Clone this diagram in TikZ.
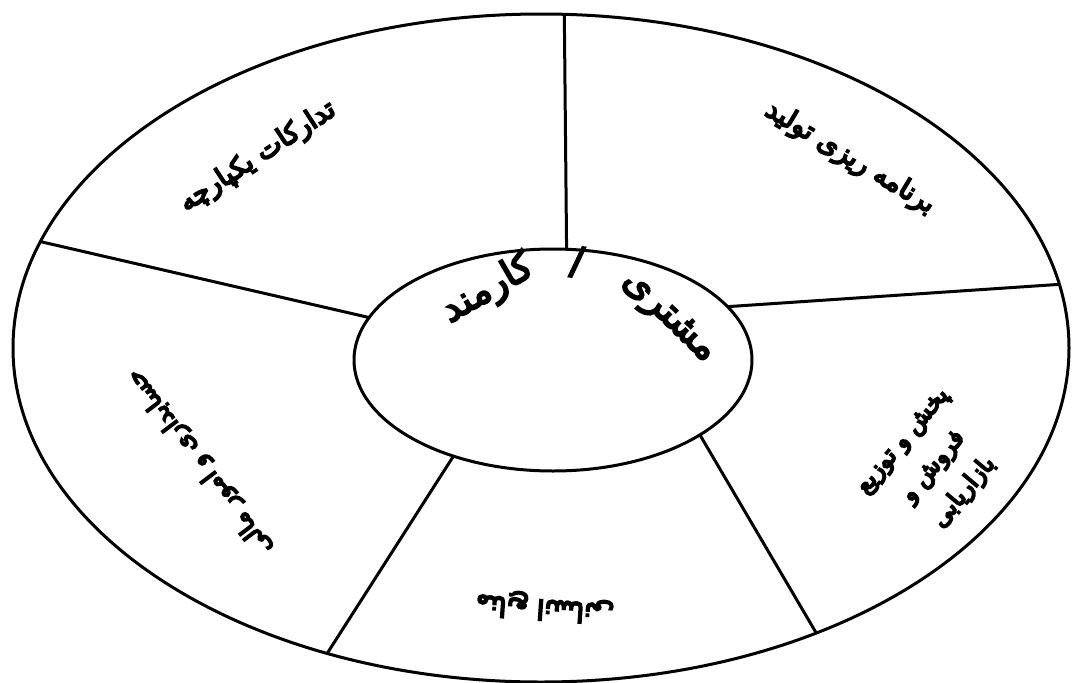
\documentclass[tikz,border=0pt]{standalone}
\usepackage{fontspec}
\newfontfamily\persianfont[Script=Arabic]{DejaVu Sans}
\TeXXeTstate=1
\usetikzlibrary{shapes.geometric}
% heavy strokes for the Persian labels (fill + stroke render mode)
\newcommand{\fa}[1]{\special{pdf:literal direct 2 Tr 1.8 w}\beginR #1\endR\special{pdf:literal direct 0 Tr}}
\tikzset{
  ring/.style={draw,ellipse,inner sep=0,outer sep=0},
  mod/.style={font=\persianfont\fontsize{27}{34}\selectfont,align=center,inner sep=1pt},
  big/.style={font=\persianfont\fontsize{38}{40}\selectfont}
}
\begin{document}
\begin{tikzpicture}[x=1pt,y=-1pt,line width=3pt]
\useasboundingbox (0,0) rectangle (1072,683);
%\draw[help lines](0,0)grid[step=50](1072,683);
\node[ring,minimum width=1056pt,minimum height=668pt] (rim) at (541,348) {};
\node[ring,minimum width=398pt,minimum height=222pt] (hub) at (553,360) {};
\draw (hub.83.7)--(rim.86)
(hub.17.5)--(rim.7)
(hub.-27.8)--(rim.-46)
(hub.224)--(rim.235)
(hub.167)--(rim.168.4);
% modules
\node[mod,rotate=33] (logis) at (258,157) {\fa{تدارکات یکپارچه}};
\node[mod,rotate=-31] (plan) at (850,158) {\fa{برنامه ریزی تولید}};
\node[mod,rotate=127,font=\persianfont\fontsize{24}{30}\selectfont] (acc) at (200,462) {\fa{حسابداری و امور مالی}};
\node[mod,rotate=176] (hr) at (545,607) {\fa{منابع انسانی}};
\node[mod,rotate=50,font=\persianfont\fontsize{24}{40}\selectfont] (sales) at (935,468)
{\fa{پخش و توزیع}\\\fa{فروش و}\\\fa{بازاریابی}};
% centre
\node[mod,big,rotate=-44] (cust) at (668,318) {\fa{مشتری}};
\node[mod,big,rotate=-8] (slash) at (577,262) {\fa{/}};
\node[mod,big,rotate=30] (staff) at (488,290) {\fa{کارمند}};
\end{tikzpicture}
\end{document}
